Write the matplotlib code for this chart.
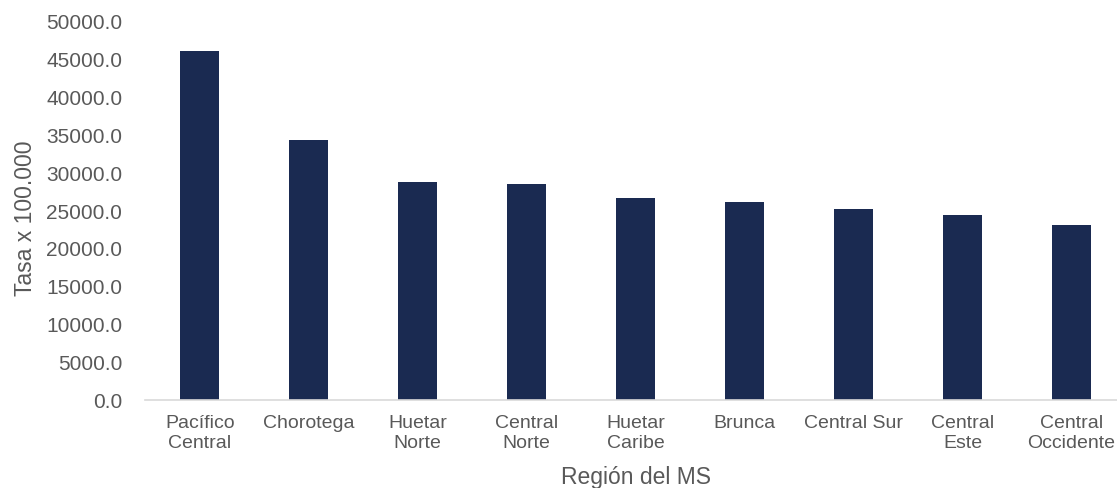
import matplotlib.pyplot as plt
from matplotlib.ticker import FormatStrFormatter

plt.rcParams['font.family'] = ['Liberation Sans', 'DejaVu Sans']

# Datos: tasa por 100.000 habitantes según región
regiones = ['Pacífico\nCentral', 'Chorotega', 'Huetar\nNorte', 'Central\nNorte',
            'Huetar\nCaribe', 'Brunca', 'Central Sur', 'Central\nEste',
            'Central\nOccidente']
tasas = [45950, 34170, 28750, 28460, 26620, 26050, 25090, 24340, 22990]
ticks_y = [0, 5000, 10000, 15000, 20000, 25000, 30000, 35000, 40000, 45000, 50000]

color_barra = '#1a2a51'
gris = '#595959'

fig = plt.figure(figsize=(11.17, 4.89), dpi=100)
ax = fig.add_axes([0.13, 0.18, 0.878, 0.777])

posiciones = range(len(regiones))
ax.bar(posiciones, tasas, width=0.36, color=color_barra)

ax.set_xlim(-0.5, len(regiones) - 0.5)
ax.set_ylim(0, 50000)
ax.set_yticks(ticks_y)
ax.yaxis.set_major_formatter(FormatStrFormatter('%.1f'))
ax.set_xticks(list(posiciones))
ax.set_xticklabels(regiones, linespacing=1.25)

ax.tick_params(axis='both', length=0, labelcolor=gris)
ax.tick_params(axis='y', pad=16.5, labelsize=15)
ax.tick_params(axis='x', pad=10, labelsize=14)

for lado in ['top', 'right', 'left']:
    ax.spines[lado].set_visible(False)
ax.spines['bottom'].set_color('#d9d9d9')
ax.spines['bottom'].set_linewidth(1.2)

ax.set_ylabel('Tasa x 100.000', fontsize=16.5, color=gris)
ax.yaxis.set_label_coords(-0.11, 0.48)
ax.set_xlabel('Región del MS', fontsize=16.5, color=gris)
ax.xaxis.set_label_coords(0.5, -0.17)

fig.savefig('out.png', dpi=100)
